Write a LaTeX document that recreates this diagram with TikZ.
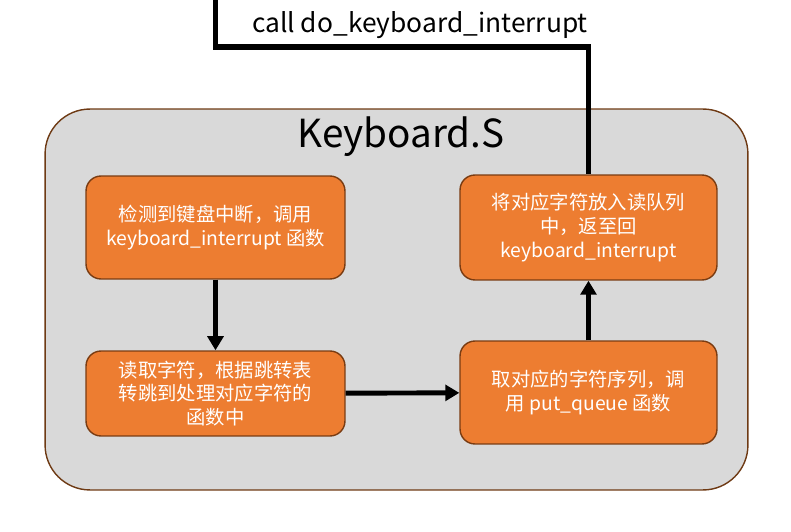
\documentclass[tikz,border=0pt]{standalone}
\usepackage{fontspec}
\setmainfont{Noto Sans CJK SC}
\usepackage{xcolor}
\usetikzlibrary{positioning,arrows.meta}

\definecolor{boxorange}{HTML}{ED7D31}
\definecolor{boxedge}{HTML}{7A3C12}
\definecolor{filegray}{HTML}{D9D9D9}
\definecolor{fileedge}{HTML}{6E3A14}

\begin{document}
\begin{tikzpicture}[
    x=0.02cm, y=0.02cm,
    stepbox/.style={draw=boxedge, line width=0.8pt, fill=boxorange, rounded corners=0.3cm,
        text=white, align=center, font=\fontsize{11}{13.5}\selectfont, inner sep=2pt},
    arrow/.style={line width=2.8pt, -{Triangle[width=9pt,length=8pt]}},
    wire/.style={line width=3.2pt}
]
\useasboundingbox (0,0) rectangle (791,531);

% Keyboard.S file
\node[draw=fileedge, line width=0.8pt, fill=filegray, rounded corners=0.9cm,
      minimum width=14.06cm, minimum height=7.62cm] (file) at (396.5,231.5) {};
\node[font=\fontsize{22}{26}\selectfont] (title) at (401,394) {Keyboard.S};

% steps
\node[stepbox, minimum width=5.18cm, minimum height=2.06cm] (detect) at (215.5,303.5)
    {检测到键盘中断，调用\\keyboard\_interrupt 函数};
\node[stepbox, minimum width=5.18cm, minimum height=1.7cm] (read) at (215.5,137.5)
    {读取字符，根据跳转表\\转跳到处理对应字符的\\函数中};
\node[stepbox, minimum width=5.14cm, minimum height=2.06cm] (seq) at (588.5,138.5)
    {取对应的字符序列，调\\用 put\_queue 函数};
\node[stepbox, minimum width=5.14cm, minimum height=2.1cm] (queue) at (588.5,303.5)
    {将对应字符放入读队列\\中，返至回\\keyboard\_interrupt};

\draw[arrow] (detect) -- (read);
\draw[arrow] (read) -- (seq);
\draw[arrow] (seq) -- (queue);

% call back to do_keyboard_interrupt
\coordinate (entry) at (215.5,531);
\coordinate (turn) at (588.5,484);
\draw[wire] (entry) |- (turn) -- (queue.north);
\node[font=\fontsize{15}{18}\selectfont] (call) at (420,506) {call do\_keyboard\_interrupt};

\end{tikzpicture}
\end{document}
